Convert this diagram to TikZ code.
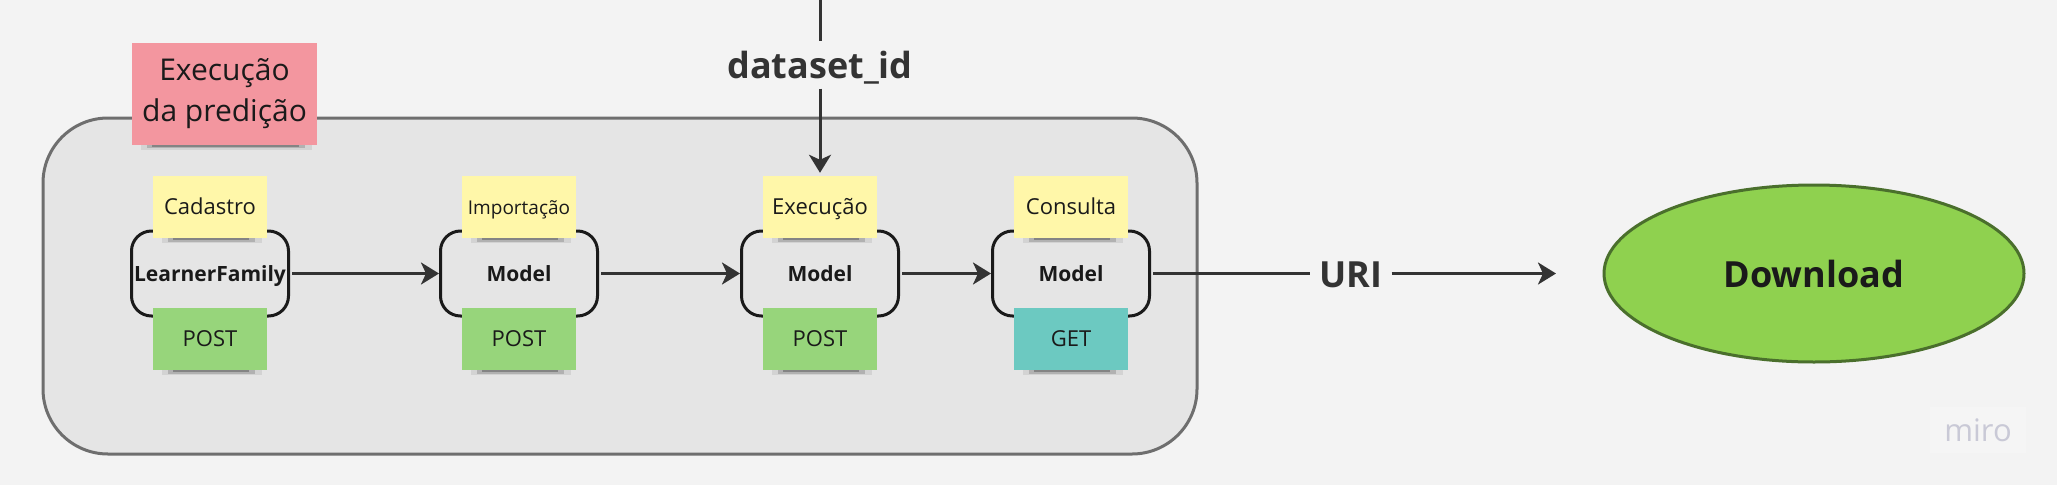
\documentclass[tikz,border=0pt]{standalone}
\usepackage{fontspec}
\setmainfont{Open Sans}
\usetikzlibrary{arrows.meta,shapes.geometric}
\definecolor{pagebg}{HTML}{F3F3F3}
\definecolor{groupfill}{HTML}{E5E5E5}
\definecolor{groupline}{HTML}{6E6E6E}
\definecolor{linecol}{HTML}{333333}
\definecolor{boxline}{HTML}{1A1A1A}
\definecolor{notered}{HTML}{F3969F}
\definecolor{noteyellow}{HTML}{FFF7A9}
\definecolor{notegreen}{HTML}{97D57B}
\definecolor{noteteal}{HTML}{6CC9C1}
\definecolor{dlgreen}{HTML}{8FD14F}
\definecolor{dlline}{HTML}{4A6F2C}
\definecolor{mirocol}{HTML}{C9C9D6}
\definecolor{mirobg}{HTML}{F5F5F5}
\newcommand{\px}[1]{\fontsize{#1}{40}\selectfont}
\tikzstyle{group} = [draw=groupline, fill=groupfill, line width=3pt, rectangle, rounded corners=65pt,
    inner sep=0pt, minimum width=1154pt, minimum height=336pt]
\tikzstyle{block} = [draw=boxline, line width=3pt, rectangle, rounded corners=20pt, inner sep=0pt,
    minimum width=157pt, minimum height=85pt, text=boxline, text height=19pt, text depth=4pt, font=\px{21}\bfseries]
\tikzstyle{note} = [rectangle, inner sep=0pt, text=boxline, minimum width=114pt, minimum height=62pt,
    text height=18pt, text depth=4pt, font=\px{22}]
\tikzstyle{label} = [inner sep=0pt, text=linecol, text height=31pt, text depth=4pt, font=\px{36}\bfseries]
\tikzstyle{flow} = [->,line width=3pt,draw=linecol]
\begin{document}
\begin{tikzpicture}[x=1pt,y=1pt,>={Stealth[length=18pt,width=22pt,inset=5pt]}]
    \fill [pagebg] (0,0) rectangle (2057,-485);
    \useasboundingbox (0,0) rectangle (2057,-485);
    \node [group] (exec) at (620,-286) {};
    \node [block] (family) at (210,-273.5) {LearnerFamily};
    \node [block, right of=family, node distance=309pt] (import) {Model};
    \node [block, right of=import, node distance=301pt] (predict) {Model};
    \node [block, right of=predict, node distance=251pt] (query) {Model};
    \node [rectangle, inner sep=0pt, text=boxline, fill=notered, minimum width=185pt, minimum height=102pt, font=\px{30}, align=center] (title) at (224.5,-93.5) {Execução\\[1pt]da predição};
    % sticky notes over and under each block
    \node [note, fill=noteyellow, above of=family, node distance=66.5pt] (cadastro) {Cadastro};
    \node [note, fill=noteyellow, above of=import, node distance=66.5pt, font=\px{19}] (importacao) {Importação};
    \node [note, fill=noteyellow, above of=predict, node distance=66.5pt] (execucao) {Execução};
    \node [note, fill=noteyellow, above of=query, node distance=66.5pt] (consulta) {Consulta};
    \node [note, fill=notegreen, below of=family, node distance=65.5pt] (postfamily) {POST};
    \node [note, fill=notegreen, below of=import, node distance=65.5pt] (postimport) {POST};
    \node [note, fill=notegreen, below of=predict, node distance=65.5pt] (postpredict) {POST};
    \node [note, fill=noteteal, below of=query, node distance=65.5pt] (getquery) {GET};
    % soft strip under the notes
    \foreach \n in {title,cadastro,importacao,execucao,consulta,postfamily,postimport,postpredict,getquery} {
        \fill [black, opacity=.08] ([xshift=9pt]\n.south west) rectangle ([xshift=-5pt,yshift=-5pt]\n.south east);
        \fill [black, opacity=.16] ([xshift=15pt]\n.south west) rectangle ([xshift=-12pt,yshift=-3.5pt]\n.south east);
        \fill [black, opacity=.25] ([xshift=20pt]\n.south west) rectangle ([xshift=-18pt,yshift=-2pt]\n.south east);
    }
    \node [label, above of=execucao, node distance=142pt, minimum height=47pt] (dataset) {dataset\_id};
    \coordinate [above of=dataset, node distance=65pt] (datasetin);
    \node [label, right of=query, node distance=280pt, minimum width=81pt] (uri) {URI};
    \coordinate [right of=uri, node distance=205pt] (uriout);
    \node [draw=dlline, fill=dlgreen, line width=3pt, ellipse, inner sep=0pt, minimum width=420pt, minimum height=177pt, text=boxline, text height=31pt, text depth=4pt, font=\px{36}\bfseries] (download) at (1814,-273.5) {Download};
    \node [inner sep=0pt, fill=mirobg, text=mirocol, minimum width=96pt, minimum height=46pt, font=\px{31}] (miro) at (1978,-430) {miro};
    \draw [flow, shorten <=2pt] (family) -- (import);
    \draw [flow, shorten <=2pt] (import) -- (predict);
    \draw [flow, shorten <=2pt] (predict) -- (query);
    \draw [line width=3pt, draw=linecol, shorten <=2pt] (query) -- (uri);
    \draw [flow] (uri) -- (uriout);
    \draw [line width=3pt, draw=linecol] (datasetin) -- (dataset);
    \draw [flow, shorten >=3pt] (dataset) -- (execucao);
\end{tikzpicture}
\end{document}
